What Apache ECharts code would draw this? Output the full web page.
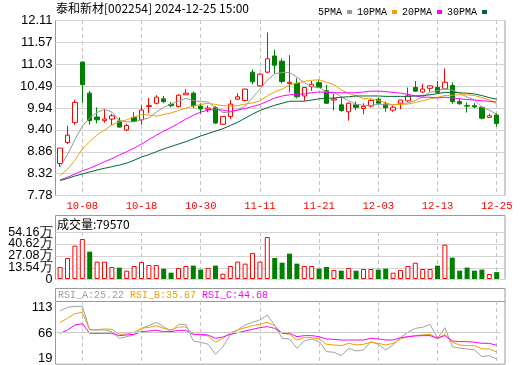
<!DOCTYPE html>
<html>
<head>
<meta charset="utf-8">
<script src="https://cdn.jsdelivr.net/npm/echarts@6/dist/echarts.min.js"></script>
<style>
html, body { margin: 0; padding: 0; background: #fff; }
#main { width: 520px; height: 365px; }
</style>
</head>
<body>
<div id="main"></div>
<script>
// 日期（交易日）
var dates = ['09-26','09-27','09-30','10-08','10-09','10-10','10-11','10-14','10-15','10-16',
    '10-17','10-18','10-21','10-22','10-23','10-24','10-25','10-28','10-29','10-30',
    '10-31','11-01','11-04','11-05','11-06','11-07','11-08','11-11','11-12','11-13',
    '11-14','11-15','11-18','11-19','11-20','11-21','11-22','11-25','11-26','11-27',
    '11-28','11-29','12-02','12-03','12-04','12-05','12-06','12-09','12-10','12-11',
    '12-12','12-13','12-16','12-17','12-18','12-19','12-20','12-23','12-24','12-25'];
var xTickLabels = ['10-08','10-18','10-30','11-11','11-21','12-03','12-13','12-25'];

// K线 开/收/低/高
var opens = [8.56,9.08,9.57,11.07,10.30,9.71,9.62,9.66,9.61,9.39,
    9.70,9.64,9.97,10.05,10.16,10.02,9.97,10.26,10.30,9.98,
    9.90,9.94,9.53,9.72,10.15,10.12,10.82,10.48,10.82,11.22,
    11.09,10.54,10.54,10.23,10.46,10.56,10.36,10.13,10.01,9.84,
    10.01,9.92,9.98,10.15,10.03,9.88,10.05,10.11,10.44,10.33,
    10.42,10.44,10.40,10.49,10.09,9.99,9.99,9.95,9.70,9.76];
var closes = [8.94,9.26,10.07,10.51,9.62,9.64,9.66,9.74,9.46,9.50,
    9.60,9.88,9.99,10.20,10.09,9.99,10.25,10.30,9.99,9.91,
    9.93,9.56,9.72,10.03,10.21,10.40,10.58,10.77,11.15,10.99,
    10.59,10.57,10.21,10.44,10.52,10.44,10.05,10.16,9.87,10.05,
    9.95,9.97,10.12,10.05,9.94,9.95,10.13,10.23,10.35,10.40,
    10.48,10.32,10.57,10.09,10.04,9.98,9.96,9.68,9.74,9.55];
var lows = [8.48,9.04,9.52,10.05,9.52,9.55,9.57,9.51,9.45,9.36,
    9.59,9.52,9.80,10.02,10.05,9.95,9.95,10.25,9.93,9.79,
    9.83,9.54,9.52,9.66,10.13,10.09,10.52,10.46,10.79,10.79,
    10.54,10.32,10.17,10.11,10.36,10.42,10.03,9.87,9.84,9.62,
    9.88,9.78,9.95,10.02,9.84,9.84,9.90,10.09,10.34,10.31,
    10.34,10.30,10.40,10.04,10.01,9.82,9.93,9.65,9.70,9.47];
var highs = [8.94,9.49,10.13,11.08,10.35,9.95,9.90,9.79,9.70,9.54,
    9.83,10.00,10.18,10.25,10.23,10.08,10.28,10.40,10.34,10.05,
    9.99,9.98,9.72,10.13,10.30,10.41,10.89,10.79,11.80,11.38,
    11.16,11.24,10.67,10.44,10.60,10.63,10.50,10.28,10.20,10.07,
    10.09,10.05,10.15,10.19,10.09,9.99,10.13,10.44,10.60,10.52,
    10.50,10.60,10.91,10.57,10.16,10.07,10.05,9.98,9.79,9.80];

// 均线
var ma5 = [8.47,8.78,9.15,9.48,9.69,9.82,9.90,9.83,9.62,9.59,
    9.59,9.64,9.69,9.83,9.95,10.03,10.10,10.17,10.12,10.09,
    10.08,9.94,9.82,9.83,9.89,9.98,10.19,10.40,10.62,10.78,
    10.81,10.81,10.70,10.56,10.46,10.44,10.33,10.32,10.21,10.11,
    10.02,10.00,9.99,10.03,10.01,10.01,10.04,10.06,10.12,10.21,
    10.32,10.36,10.42,10.37,10.30,10.20,10.13,9.95,9.88,9.78];
var ma10 = [8.26,8.42,8.64,8.92,9.10,9.27,9.39,9.51,9.59,9.64,
    9.71,9.77,9.76,9.73,9.77,9.81,9.87,9.93,9.98,10.02,
    10.05,10.02,9.99,9.98,9.99,10.03,10.06,10.11,10.23,10.33,
    10.40,10.50,10.55,10.59,10.62,10.63,10.57,10.51,10.38,10.29,
    10.23,10.17,10.16,10.12,10.06,10.01,10.02,10.03,10.07,10.11,
    10.16,10.20,10.24,10.25,10.26,10.26,10.24,10.19,10.13,10.04];
var ma20 = [8.15,8.22,8.30,8.38,8.44,8.52,8.60,8.68,8.77,8.85,
    8.94,9.04,9.15,9.26,9.36,9.45,9.55,9.66,9.75,9.83,
    9.88,9.90,9.88,9.85,9.88,9.92,9.97,10.02,10.10,10.18,
    10.23,10.26,10.27,10.28,10.31,10.33,10.32,10.31,10.31,10.31,
    10.31,10.33,10.35,10.35,10.34,10.32,10.30,10.27,10.23,10.20,
    10.20,10.18,10.20,10.18,10.16,10.14,10.13,10.11,10.10,10.08];
var ma30 = [8.14,8.19,8.25,8.30,8.35,8.40,8.44,8.48,8.52,8.57,
    8.64,8.72,8.78,8.85,8.92,8.98,9.04,9.10,9.17,9.24,
    9.30,9.36,9.42,9.50,9.58,9.68,9.78,9.87,9.94,10.00,
    10.05,10.10,10.10,10.10,10.13,10.16,10.17,10.18,10.20,10.21,
    10.23,10.23,10.23,10.23,10.22,10.22,10.22,10.22,10.23,10.24,
    10.26,10.29,10.32,10.32,10.31,10.30,10.28,10.24,10.19,10.15];

// 成交量
var volumes = [138000,242000,384000,461000,315000,200000,200000,138000,131000,96000,
    150000,196000,161000,161000,119000,73000,127000,150000,154000,108000,
    127000,154000,61000,150000,200000,177000,300000,200000,484000,242000,
    188000,292000,177000,150000,150000,119000,138000,104000,96000,127000,
    96000,115000,115000,108000,119000,73000,104000,150000,188000,115000,
    115000,154000,396000,246000,96000,131000,96000,108000,58000,79570];

// RSI
var rsiA = [105.7,112.4,114.2,114.2,70.9,70.9,70.9,67.8,55.6,58.6,
    61.7,73.9,78.8,84.9,77.0,67.8,81.2,81.2,50.7,48.3,
    44.6,26.3,40.3,61.7,70.9,80.0,84.9,89.2,98.3,80.0,
    55.6,54.4,37.3,50.7,54.4,49.5,31.2,30.0,23.8,37.3,
    32.4,34.2,49.5,44.6,34.2,43.4,56.8,66.6,73.9,75.8,
    81.2,55.6,75.1,40.3,37.3,36.1,34.2,22.0,23.8,17.7];
var rsiB = [84.9,92.2,100.8,103.2,71.5,71.5,72.7,72.1,62.9,63.5,
    66.6,73.9,75.8,78.8,73.9,70.9,76.4,76.4,62.9,61.7,
    59.9,48.3,55.6,66.0,70.9,75.1,78.8,81.2,84.9,78.8,
    64.8,62.9,52.5,56.8,56.8,54.4,44.6,43.4,42.2,46.4,
    43.4,44.6,48.3,46.4,43.4,46.4,54.4,58.6,60.5,61.7,
    62.9,55.6,62.9,48.3,43.4,42.2,42.2,36.1,36.1,30.5];
var rsiC = [64.8,70.9,80.0,82.5,64.8,64.8,64.8,64.8,60.5,61.7,
    62.9,67.8,69.0,70.2,67.8,67.8,70.2,70.2,62.9,62.9,
    61.7,55.6,58.0,62.9,66.0,69.0,72.1,75.1,77.0,73.9,
    64.8,64.8,58.6,60.5,60.5,58.6,54.4,53.8,52.5,52.5,
    52.5,52.5,55.6,54.4,52.5,52.5,56.8,58.6,59.9,60.5,
    60.5,55.6,60.5,50.7,49.5,49.5,48.3,46.4,46.4,42.8];
var rsiLast = ['25.22', '35.87', '44.68'];

// 刻度
var priceTicks = ['7.78','8.32','8.86','9.40','9.94','10.49','11.03','11.57','12.11'];
var volTicks = ['0','13.54万','27.08万','40.62万','54.16万'];
var volMax = 541600;
var rsiTicks = [19, 66, 113];
var rsiMin = 8.5, rsiMax = 124;

var numFont = 'Liberation Sans';
var cnFont = 'Noto Sans CJK SC';
var monoFont = 'Liberation Mono';
var red = '#ff0000', green = '#008000';
var maColors = ['#999999', '#f0a000', '#ff00ff', '#006633'];

var chart = echarts.init(document.getElementById('main'));

function isTick(i, v) {
    return xTickLabels.indexOf(v) >= 0;
}
//数据用的x轴
function dataXAxis(g, showLabel) {
    return {
        type: 'category', gridIndex: g, data: dates, boundaryGap: true,
        axisLine: { show: false }, axisTick: { show: false },
        axisLabel: { show: showLabel, interval: isTick, color: red, fontFamily: monoFont, fontSize: 10.5, margin: 6 },
        splitLine: { show: true, interval: isTick, alignWithLabel: true, lineStyle: { color: '#c4c4c4', type: [4, 3], width: 1 } }
    };
}
//背景x轴
function bgXAxis(g) {
    return { type: 'value', gridIndex: g, min: 0, max: 1, show: false };
}
function hiddenY(g, min, max) {
    return { type: 'value', gridIndex: g, min: min, max: max, show: false };
}
var labelStyle = { color: '#000', fontFamily: numFont, fontSize: 13, margin: 3, showMinLabel: true, showMaxLabel: true, hideOverlap: false };
var volStep = volMax / (volTicks.length - 1);
function volLabel(v) {
    return volTicks[Math.round(v / volStep)];
}

var candleData = dates.map(function (d, i) {
    return [opens[i], closes[i], lows[i], highs[i]];
});
var volData = volumes.map(function (v, i) {
    var up = i == 0 ? closes[i] >= opens[i] : closes[i] >= closes[i - 1];
    return {
        value: v,
        itemStyle: up ? { color: '#fff', borderColor: red, borderWidth: 1 } : { color: green, borderColor: green, borderWidth: 0 }
    };
});

var maNames = ['5PMA', '10PMA', '20PMA', '30PMA'];
var maData = [ma5, ma10, ma20, ma30];
var series = [{
    type: 'candlestick', name: 'K', xAxisIndex: 1, yAxisIndex: 1,
    data: candleData, barWidth: 5,
    itemStyle: { color: '#fff', color0: green, borderColor: red, borderColor0: green, borderWidth: 1 }
}];
for (var k = 0; k < 4; k++) {
    series.push({
        type: 'line', name: maNames[k], xAxisIndex: 1, yAxisIndex: 1,
        data: maData[k], symbol: 'none', silent: true,
        lineStyle: { color: maColors[k], width: 1 }, itemStyle: { color: maColors[k] }
    });
}
series.push({
    type: 'bar', name: 'VOL', xAxisIndex: 3, yAxisIndex: 3, data: volData, barWidth: 5
});
var rsiColors = ['#a0a0a0', '#f0a000', '#ff00ff'];
var rsiData = [rsiA, rsiB, rsiC];
for (var r = 0; r < 3; r++) {
    var s = {
        type: 'line', name: 'RSI' + r, xAxisIndex: 5, yAxisIndex: 5,
        data: rsiData[r], symbol: 'none', silent: true,
        lineStyle: { color: rsiColors[r], width: 1 }
    };
    if (r == 0) {
        s.markLine = {
            silent: true, symbol: 'none', label: { show: false },
            lineStyle: { color: '#c8c8c8', type: 'solid', width: 1 },
            data: [{ yAxis: 66 }]
        };
    }
    series.push(s);
}

var option = {
    animation: false,
    backgroundColor: '#fff',
    legend: {
        data: maNames, right: 28, top: 2, align: 'right', icon: 'rect',
        itemWidth: 5, itemHeight: 4, itemGap: 5, selectedMode: false,
        textStyle: { fontFamily: monoFont, fontSize: 10, color: '#000' }
    },
    grid: [
        { left: 55.5, right: 15, top: 20.5, height: 175, show: true, borderColor: '#999', borderWidth: 1 },
        { left: 56.4, right: 19.6, top: 20, height: 175 },
        { left: 55.5, right: 15, top: 232.5, height: 47, show: true, borderColor: '#999', borderWidth: 1 },
        { left: 56.4, right: 19.6, top: 232, height: 47 },
        { left: 55.5, right: 15, top: 301.5, height: 63, show: true, borderColor: '#999', borderWidth: 1 },
        { left: 56.4, right: 19.6, top: 301, height: 63 }
    ],
    xAxis: [bgXAxis(0), dataXAxis(1, true), bgXAxis(2), dataXAxis(3, false), bgXAxis(4), dataXAxis(5, false)],
    yAxis: [
        {
            type: 'value', gridIndex: 0, min: 0, max: priceTicks.length - 1, interval: 1,
            axisLine: { show: false }, axisTick: { show: false },
            axisLabel: Object.assign({ formatter: function (v) { return priceTicks[v]; } }, labelStyle),
            splitLine: { lineStyle: { color: '#d4d4d4' } }
        },
        hiddenY(1, parseFloat(priceTicks[0]), parseFloat(priceTicks[priceTicks.length - 1])),
        // 量的刻度分两个轴写，避免相邻标签被隐藏
        {
            type: 'value', gridIndex: 2, min: 0, max: volMax, interval: volStep,
            axisLine: { show: false }, axisTick: { show: false },
            axisLabel: Object.assign({}, labelStyle, {
                customValues: [0, volStep * 2, volMax], fontSize: 12.5,
                formatter: volLabel
            }),
            splitLine: { lineStyle: { color: '#d4d4d4' } }
        },
        {
            type: 'value', gridIndex: 3, min: 0, max: volMax,
            axisLine: { show: false }, axisTick: { show: false }, splitLine: { show: false },
            axisLabel: Object.assign({}, labelStyle, {
                customValues: [volStep, volStep * 3], fontSize: 12.5, margin: 3.9,
                formatter: volLabel
            })
        },
        {
            type: 'value', gridIndex: 4, min: rsiMin, max: rsiMax,
            axisLine: { show: false }, axisTick: { show: false }, splitLine: { show: false },
            axisLabel: Object.assign({ customValues: rsiTicks }, labelStyle)
        },
        hiddenY(5, rsiMin, rsiMax)
    ],
    graphic: [
        { type: 'text', x: 56, y: 8, style: { text: '泰和新材[002254] 2024-12-25 15:00', font: '12px "Noto Sans CJK SC"', fill: '#000', verticalAlign: 'middle' } },
        { type: 'rect', shape: { x: 55.5, y: 215.5, width: 449.5, height: 17 }, style: { fill: 'none', stroke: '#999', lineWidth: 1 } },
        { type: 'text', x: 57, y: 224, style: { text: '成交量:' + volumes[volumes.length - 1], font: '12px "Noto Sans CJK SC"', fill: '#000', verticalAlign: 'middle' } },
        { type: 'rect', shape: { x: 55.5, y: 288.5, width: 449.5, height: 13 }, style: { fill: 'none', stroke: '#999', lineWidth: 1 } },
        { type: 'text', x: 58, y: 295, style: { text: 'RSI_A:' + rsiLast[0], font: '10px "Liberation Mono"', fill: rsiColors[0], verticalAlign: 'middle' } },
        { type: 'text', x: 130, y: 295, style: { text: 'RSI_B:' + rsiLast[1], font: '10px "Liberation Mono"', fill: rsiColors[1], verticalAlign: 'middle' } },
        { type: 'text', x: 202, y: 295, style: { text: 'RSI_C:' + rsiLast[2], font: '10px "Liberation Mono"', fill: rsiColors[2], verticalAlign: 'middle' } }
    ],
    series: series
};
chart.setOption(option);
</script>
</body>
</html>
